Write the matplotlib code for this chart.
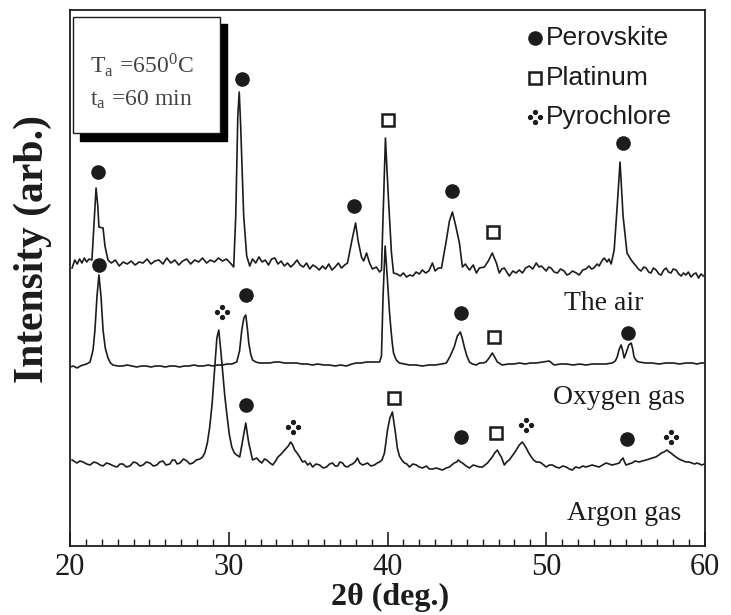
import numpy as np
import matplotlib
matplotlib.use("Agg")
import matplotlib.pyplot as plt
from matplotlib.path import Path
from matplotlib.patches import Rectangle

# ---- XRD scans (2theta in deg, intensity in arb. units, offset already included)
air_tt = [20.13, 20.3, 20.45, 20.6, 20.75, 20.9, 21.05, 21.2, 21.38, 21.5, 21.64, 21.75, 21.82, 22.08, 22.2, 22.39,
          22.6, 22.85, 23.1, 23.35, 23.6, 23.85, 24.1, 24.35, 24.6, 24.85, 25.1, 25.35, 25.6, 25.85, 26.1, 26.35,
          26.6, 26.85, 27.1, 27.35, 27.6, 27.85, 28.1, 28.35, 28.6, 28.85, 29.1, 29.35, 29.6, 29.85, 30.1, 30.31,
          30.44, 30.57, 30.66, 30.75, 30.94, 31.13, 31.32, 31.5, 31.7, 31.9, 32.1, 32.3, 32.5, 32.7, 32.9, 33.1,
          33.3, 33.5, 33.7, 33.9, 34.1, 34.3, 34.5, 34.7, 34.9, 35.1, 35.3, 35.5, 35.7, 35.9, 36.1, 36.3, 36.5,
          36.7, 36.9, 37.1, 37.3, 37.48, 37.75, 37.99, 38.15, 38.36, 38.5, 38.68, 38.87, 39.05, 39.3, 39.5, 39.62,
          39.75, 39.87, 40.05, 40.25, 40.38, 40.6, 40.8, 41.0, 41.2, 41.4, 41.6, 41.8, 42.0, 42.2, 42.4, 42.6,
          42.83, 43.0, 43.2, 43.4, 43.71, 43.9, 44.09, 44.3, 44.53, 44.72, 44.9, 45.16, 45.4, 45.6, 45.79, 46.1,
          46.35, 46.6, 46.86, 47.04, 47.2, 47.36, 47.67, 47.9, 48.1, 48.3, 48.5, 48.7, 48.93, 49.15, 49.37, 49.55,
          49.69, 50.0, 50.15, 50.3, 50.5, 50.7, 50.9, 51.13, 51.3, 51.45, 51.65, 51.9, 52.08, 52.3, 52.5, 52.7,
          52.85, 53.0, 53.2, 53.33, 53.5, 53.65, 53.84, 53.95, 54.09, 54.28, 54.47, 54.65, 54.84, 55.09, 55.2,
          55.35, 55.5, 55.66, 55.8, 55.97, 56.15, 56.29, 56.45, 56.6, 56.75, 56.92, 57.1, 57.23, 57.4, 57.55,
          57.7, 57.86, 58.0, 58.18, 58.35, 58.5, 58.65, 58.8, 58.95, 59.12, 59.3, 59.43, 59.6, 59.75, 59.9]
air_int = [278, 286, 282, 287, 283, 288, 284, 287, 286, 320, 358, 340, 319, 318, 300, 286,
           283, 286, 280, 284, 282, 285, 281, 284, 283, 287, 282, 285, 286, 282, 288, 283,
           286, 281, 285, 287, 282, 286, 284, 288, 283, 286, 284, 288, 285, 287, 283, 279,
           330, 430, 454, 420, 330, 290, 280, 287, 283, 289, 284, 286, 281, 287, 288, 282,
           285, 280, 283, 279, 282, 286, 281, 279, 283, 277, 281, 279, 276, 280, 277, 282, 276,
           279, 283, 278, 281, 283, 305, 323, 305, 289, 285, 293, 283, 277, 279, 274, 276,
           345, 408, 350, 293, 273, 272, 270, 273, 269, 271, 270, 274, 272, 276, 273, 275,
           283, 275, 278, 278, 306, 325, 334, 320, 303, 279, 282, 276, 281, 273, 278, 279,
           285, 293, 283, 273, 277, 278, 270, 275, 273, 276, 273, 278, 280, 277, 283, 279,
           280, 275, 279, 278, 274, 273, 277, 275, 271, 272, 275, 273, 271, 276, 277, 280,
           277, 278, 282, 280, 285, 288, 284, 287, 282, 296, 340, 384, 330, 293, 290,
           286, 283, 280, 277, 275, 279, 278, 274, 273, 278, 276, 272, 271, 276, 278,
           274, 273, 277, 276, 272, 270, 273, 271, 274, 269, 272, 273, 268, 272, 270]

oxy_tt = [20.0, 20.2, 20.44, 20.65, 20.82, 21.05, 21.26, 21.45, 21.57, 21.7, 21.82, 21.95, 22.08, 22.22, 22.39,
          22.55, 22.7, 23.0, 23.3, 23.6, 23.9, 24.2, 24.5, 24.8, 25.1, 25.4, 25.7, 26.0, 26.3, 26.6, 26.9, 27.2,
          27.5, 27.8, 28.1, 28.4, 28.7, 29.0, 29.3, 29.6, 29.9, 30.2, 30.5, 30.68, 30.82, 30.95, 31.07, 31.17,
          31.26, 31.38, 31.5, 31.7, 31.95, 32.3, 32.58, 32.9, 33.2, 33.5, 33.9, 34.28, 34.6, 34.95, 35.28, 35.6,
          36.0, 36.35, 36.7, 37.05, 37.42, 37.75, 38.05, 38.35, 38.68, 39.1, 39.5, 39.62, 39.72, 39.85, 39.98,
          40.12, 40.22, 40.3, 40.38, 40.55, 40.75, 41.05, 41.38, 41.8, 42.2, 42.6, 43.0, 43.4, 43.71, 43.95, 44.2,
          44.4, 44.59, 44.72, 44.84, 45.0, 45.16, 45.35, 45.6, 45.79, 46.0, 46.2, 46.4, 46.6, 46.75, 46.92, 47.23,
          47.6, 47.95, 48.3, 48.7, 49.0, 49.37, 49.8, 50.19, 50.5, 50.9, 51.26, 51.7, 52.1, 52.5, 52.9, 53.33,
          53.75, 54.15, 54.35, 54.47, 54.6, 54.72, 54.82, 54.91, 55.05, 55.2, 55.35, 55.45, 55.53, 55.7, 55.85,
          56.25, 56.67, 57.1, 57.55, 58.0, 58.4, 58.8, 59.2, 59.5, 59.75, 59.9]
oxy_int = [179, 180, 178, 180, 181, 182, 184, 196, 216, 250, 271, 250, 216, 198, 188,
           183, 181, 180, 180, 181, 180, 179, 180, 180, 179, 180, 180, 179, 180, 180, 179, 180,
           180, 181, 180, 180, 181, 180, 181, 181, 182, 182, 184, 195, 216, 228, 231, 218,
           203, 192, 186, 184, 183, 183, 183, 184, 184, 183, 183, 183, 182, 182, 181, 182,
           181, 181, 180, 181, 180, 182, 183, 183, 184, 184, 184, 190, 250, 300, 270,
           235, 216, 203, 193, 186, 183, 182, 181, 181, 180, 181, 181, 182, 183, 190, 199,
           210, 214, 207, 199, 190, 184, 182, 181, 183, 183, 184, 188, 193, 189, 184, 181,
           182, 182, 183, 182, 183, 183, 184, 185, 181, 182, 182, 181, 182, 181, 182, 182,
           182, 183, 185, 189, 197, 201, 195, 188, 194, 201, 203, 197, 189, 185, 184,
           183, 183, 182, 183, 183, 182, 183, 183, 182, 183, 183]

arg_tt = [20.13, 20.44, 20.62, 20.82, 21.05, 21.26, 21.5, 21.7, 21.9, 22.08, 22.3, 22.5, 22.75, 22.96, 23.15,
          23.33, 23.55, 23.77, 24.0, 24.2, 24.4, 24.6, 24.8, 25.03, 25.25, 25.47, 25.65, 25.85, 26.05, 26.29,
          26.45, 26.6, 26.75, 26.92, 27.15, 27.36, 27.55, 27.74, 27.95, 28.18, 28.35, 28.49, 28.65, 28.8, 28.95,
          29.06, 29.25, 29.37, 29.5, 29.62, 29.75, 29.87, 30.03, 30.19, 30.35, 30.5, 30.69, 30.88, 31.07, 31.17,
          31.26, 31.5, 31.76, 31.92, 32.08, 32.25, 32.39, 32.6, 32.77, 32.95, 33.1, 33.3, 33.52, 33.75, 33.9,
          34.03, 34.15, 34.3, 34.47, 34.65, 34.8, 34.97, 35.12, 35.28, 35.5, 35.72, 35.95, 36.16, 36.35, 36.54,
          36.7, 36.86, 37.0, 37.17, 37.3, 37.48, 37.65, 37.8, 37.95, 38.11, 38.25, 38.43, 38.6, 38.74, 38.95,
          39.18, 39.35, 39.5, 39.65, 39.81, 40.0, 40.15, 40.31, 40.5, 40.62, 40.75, 40.9, 41.07, 41.22, 41.38,
          41.6, 41.82, 42.0, 42.2, 42.45, 42.64, 42.85, 43.08, 43.25, 43.46, 43.7, 43.9, 44.05, 44.2, 44.35,
          44.47, 44.6, 44.72, 44.95, 45.16, 45.4, 45.6, 45.8, 45.99, 46.15, 46.3, 46.45, 46.6, 46.75, 46.92,
          47.05, 47.17, 47.36, 47.5, 47.67, 47.85, 47.99, 48.15, 48.3, 48.49, 48.62, 48.74, 48.9, 49.06, 49.2,
          49.37, 49.55, 49.69, 49.85, 50.0, 50.2, 50.38, 50.6, 50.82, 51.05, 51.26, 51.45, 51.64, 51.85, 52.08,
          52.3, 52.5, 52.7, 52.9, 53.1, 53.33, 53.55, 53.77, 53.95, 54.15, 54.4, 54.6, 54.72, 54.84, 54.93,
          55.03, 55.2, 55.4, 55.6, 55.85, 56.05, 56.29, 56.5, 56.67, 56.9, 57.1, 57.25, 57.42, 57.61, 57.75,
          57.86, 58.0, 58.18, 58.35, 58.5, 58.65, 58.8, 59.0, 59.18, 59.35, 59.5, 59.65, 59.81, 59.95]
arg_int = [86, 83, 85, 84, 82, 81, 84, 83, 81, 80, 83, 82, 80, 79, 82,
           82, 79, 80, 84, 83, 80, 81, 84, 83, 80, 81, 84, 85, 81, 82,
           86, 86, 82, 83, 87, 85, 82, 83, 86, 87, 89, 93, 103, 119, 142,
           166, 208, 216, 195, 173, 150, 133, 112, 99, 93, 91, 89, 106, 123, 112,
           103, 86, 88, 85, 83, 87, 86, 83, 81, 85, 89, 92, 96, 100, 104,
           101, 96, 93, 89, 84, 85, 81, 83, 79, 82, 81, 78, 79, 82, 83,
           80, 80, 84, 83, 80, 79, 81, 82, 84, 88, 83, 81, 82, 83, 80,
           81, 83, 84, 86, 93, 116, 128, 134, 113, 98, 90, 86, 83, 82, 79,
           82, 81, 79, 78, 80, 77, 77, 78, 77, 76, 78, 79, 81, 83, 84,
           86, 84, 83, 80, 78, 81, 80, 79, 79, 81, 83, 86, 89, 93, 96,
           92, 89, 81, 84, 86, 90, 93, 97, 101, 104, 101, 98, 93, 89, 86,
           84, 84, 83, 81, 79, 81, 81, 79, 78, 80, 79, 77, 76, 79, 78,
           80, 79, 80, 81, 80, 79, 81, 83, 82, 81, 82, 83, 86, 88, 84,
           81, 82, 83, 85, 84, 85, 86, 87, 88, 89, 91, 93, 94, 96, 94,
           93, 91, 89, 87, 86, 85, 84, 84, 83, 82, 83, 82, 81, 82]

# ---- phase markers (2theta, height)
perov_tt = [21.76, 30.82, 37.92, 44.09, 54.84, 21.82, 31.07, 44.65, 55.16, 31.07, 44.65, 55.09]
perov_y = [374, 467, 340, 355, 403, 281, 251, 233, 213, 141, 109, 107]
pt_tt = [40.0, 46.67, 46.73, 40.38, 46.86]
pt_y = [426, 314, 209, 148, 113]
pyro_tt = [29.56, 34.03, 48.74, 57.86]
pyro_y = [234, 119, 121, 109]

labels = ["The air", "Oxygen gas", "Argon gas"]
label_tt = [53.6, 54.6, 54.9]
label_y = [243, 149, 32]

ink = "#1c1c1c"
serif = "Liberation Serif"
plt.rcParams["font.family"] = serif
plt.rcParams["mathtext.fontset"] = "stix"

# four-dot marker for pyrochlore
dots = [Path.circle(p, 0.38) for p in [(0, 1), (1, 0), (0, -1), (-1, 0)]]
pyro_marker = Path.make_compound_path(*dots)

fig = plt.figure(figsize=(7.31, 6.15), dpi=100)
ax = fig.add_axes([0.0958, 0.1122, 0.8686, 0.8715])

for tt, yy in [(air_tt, air_int), (oxy_tt, oxy_int), (arg_tt, arg_int)]:
    ax.plot(tt, yy, color=ink, lw=1.2)

ax.plot(perov_tt, perov_y, "o", color=ink, ms=9.5, ls="none")
ax.plot(pt_tt, pt_y, "s", mfc="white", mec=ink, mew=1.8, ms=9, ls="none")
ax.plot(pyro_tt, pyro_y, ls="none", marker=pyro_marker, color=ink, ms=10)

for t, x, y in zip(labels, label_tt, label_y):
    ax.text(x, y, t, fontsize=20, ha="center", va="center", color=ink)

# legend (drawn by hand, as in the original figure)
leg_items = [("o", dict(color=ink, ms=9.5), "Perovskite"),
             ("s", dict(mfc="white", mec=ink, mew=1.8, ms=9), "Platinum"),
             (pyro_marker, dict(color=ink, ms=10), "Pyrochlore")]
for i, (mk, kw, name) in enumerate(leg_items):
    yy = 0.948 - i * 0.074
    ax.plot([0.732], [yy], marker=mk, ls="none", transform=ax.transAxes, **kw)
    ax.text(0.750, yy, name, transform=ax.transAxes, fontsize=19, va="center",
            family="Liberation Sans", color=ink)

# annealing condition box with drop shadow
ax.add_patch(Rectangle((0.016, 0.756), 0.231, 0.218, transform=ax.transAxes,
                       facecolor="black", edgecolor="black", zorder=4))
ax.add_patch(Rectangle((0.005, 0.771), 0.231, 0.216, transform=ax.transAxes,
                       facecolor="white", edgecolor=ink, lw=1.0, zorder=5))
ax.text(0.031, 0.897, r"T$_{\mathregular{a}}$ =650$^{\mathregular{0}}$C", transform=ax.transAxes,
        fontsize=17, va="center", color="#444444", zorder=6)
ax.text(0.031, 0.832, r"t$_{\mathregular{a}}$ =60 min", transform=ax.transAxes,
        fontsize=17, va="center", color="#444444", zorder=6)

ax.set_xlim(20, 60)
ax.set_ylim(0, 536)
ax.set_xticks([20, 30, 40, 50, 60])
ax.set_xticks(np.arange(20, 61, 1), minor=True)
ax.set_yticks([])
ax.tick_params(axis="x", which="major", direction="in", length=10, width=1.2, pad=5,
               labelsize=22, colors=ink)
ax.tick_params(axis="x", which="minor", direction="in", length=5, width=1.0, colors=ink)
for s in ax.spines.values():
    s.set_linewidth(1.3)
    s.set_color(ink)

ax.set_xlabel("2θ (deg.)", fontsize=23, fontweight="bold", color=ink)
ax.xaxis.set_label_coords(0.504, -0.068)
ax.set_ylabel("Intensity (arb.)", fontsize=30, fontweight="bold", color=ink)
ax.yaxis.set_label_coords(-0.028, 0.554)

fig.savefig("out.png", dpi=100)
